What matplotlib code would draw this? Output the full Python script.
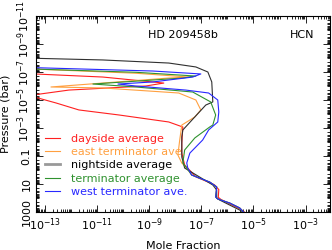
import numpy as np
import matplotlib
matplotlib.use('Agg')
from matplotlib import pyplot as plt
from matplotlib.ticker import FixedLocator, LogLocator, NullFormatter

# log10(mole fraction), log10(pressure / bar)
lower_x = [-7.37, -6.68, -6.41, -6.45, -6.37, -5.91, -5.53, -5.38]
lower_p = [0.36, 0.86, 1.21, 1.93, 2.07, 2.36, 2.71, 3.0]

day_x = [-13.4, -10.78, -8.44, -9.13, -12.08, -13.45, -13.4, -12.58, -11.70,
         -10.16, -8.25, -7.71, -7.75, -7.75, -7.64, -7.2, -6.5, -6.33, -6.35,
         -6.25, -5.5, -5.35]
day_p = [-6.86, -6.64, -6.21, -6.0, -5.71, -5.36, -5.21, -4.79, -4.29,
         -3.93, -3.43, -3.07, -1.93, -1.21, -0.36, 0.5, 1.05, 1.4, 1.95,
         2.1, 2.8, 3.0]

east_x = [-13.4, -9.51, -7.48, -8.25, -12.77, -10.78, -7.87, -7.21, -7.02,
          -7.25, -7.75, -7.83, -7.90, -7.75, -7.56]
east_p = [-7.21, -6.91, -6.64, -6.57, -5.93, -5.86, -5.5, -5.0, -4.29,
          -3.79, -3.21, -2.14, -1.07, -0.5, -0.14]

night_x = [-13.4, -10.78, -8.25, -7.21, -6.75, -6.60, -6.56, -6.83, -7.71,
           -7.75, -7.75, -7.64, -6.56, -6.41, -6.41, -6.30, -5.53, -5.40]
night_p = [-7.98, -7.86, -7.64, -7.36, -7.0, -6.29, -4.86, -4.64, -2.86,
           -2.36, -0.93, -0.14, 1.07, 1.43, 2.0, 2.14, 2.86, 3.0]

term_x = [-13.4, -9.51, -7.21, -7.71, -11.16, -9.51, -7.33, -6.64, -6.45,
          -6.56, -6.68, -7.25, -7.64, -7.71, -7.56]
term_p = [-7.21, -6.98, -6.71, -6.57, -6.14, -5.93, -5.57, -4.86, -3.93,
          -3.21, -3.07, -2.29, -1.43, -0.5, -0.14]

west_x = [-13.4, -8.86, -7.02, -7.33, -8.86, -10.20, -9.51, -7.60, -6.72,
          -6.37, -6.33, -6.37, -6.72, -6.95, -7.44, -7.56, -7.52]
west_p = [-7.31, -7.07, -6.86, -6.64, -6.29, -6.14, -6.0, -5.71, -5.5,
          -5.0, -4.14, -3.43, -2.86, -2.14, -1.21, -0.5, -0.14]

curves = [
    ('dayside average', day_x, day_p, '#ff2020', False),
    ('east terminator ave.', east_x, east_p, '#ffa040', True),
    ('nightside average', night_x, night_p, '#303030', False),
    ('terminator average', term_x, term_p, '#2f922f', True),
    ('west terminator ave.', west_x, west_p, '#2828ff', True),
]

fig = plt.figure(figsize=(3.32, 2.5), dpi=100)
ax = fig.add_axes([0.108, 0.152, 0.887, 0.784])

lines = []
for name, xs, ps, col, add_lower in curves:
    xs = list(xs)
    ps = list(ps)
    if add_lower:
        xs = xs + lower_x
        ps = ps + lower_p
    l, = ax.plot(10.0 ** np.array(xs), 10.0 ** np.array(ps), color=col,
                 lw=0.8, label=name)
    lines.append(l)

ax.set_xscale('log')
ax.set_yscale('log')
ax.set_xlim(10 ** -13.35, 10 ** -2.05)
ax.set_ylim(1e3, 1e-11)

xt = 10.0 ** np.arange(-13, -2, 2)
ax.xaxis.set_major_locator(FixedLocator(xt))
ax.set_xticklabels([f'$10^{{{int(e)}}}$' for e in np.arange(-13, -2, 2)])
yt = 10.0 ** np.arange(3, -12, -2)
ylabs = ['1000', '10', '0.1'] + [f'$10^{{{int(e)}}}$' for e in np.arange(-3, -12, -2)]
ax.yaxis.set_major_locator(FixedLocator(yt))
ax.set_yticklabels(ylabs, rotation=90, va='center')
for a in (ax.xaxis, ax.yaxis):
    a.set_minor_locator(LogLocator(base=10, subs=np.arange(1, 10), numticks=100))
    a.set_minor_formatter(NullFormatter())

ax.tick_params(which='both', direction='in', top=True, right=True,
               width=0.6, labelsize=8, pad=3)
ax.tick_params(which='major', length=5)
ax.tick_params(which='minor', length=2.5)
for s in ax.spines.values():
    s.set_linewidth(0.8)

ax.set_xlabel('Mole Fraction', fontsize=8, labelpad=6)
ax.set_ylabel('Pressure (bar)', fontsize=8, labelpad=3)

ax.text(0.498, 0.903, 'HD 209458b', transform=ax.transAxes, fontsize=8,
        ha='center', va='center')
ax.text(0.905, 0.903, 'HCN', transform=ax.transAxes, fontsize=8,
        ha='center', va='center')

leg = ax.legend(loc='upper left', bbox_to_anchor=(0.031, 0.40), frameon=False,
                fontsize=8, handlelength=1.35, handletextpad=1.0,
                labelspacing=0.3, borderpad=0, borderaxespad=0)
for h, t, (name, _, _, col, _) in zip(leg.legend_handles, leg.get_texts(), curves):
    if name.startswith('nightside'):
        h.set_color('#999999')
        h.set_linewidth(2)
        t.set_color('black')
    else:
        t.set_color(col)

fig.savefig('out.png', dpi=100)
